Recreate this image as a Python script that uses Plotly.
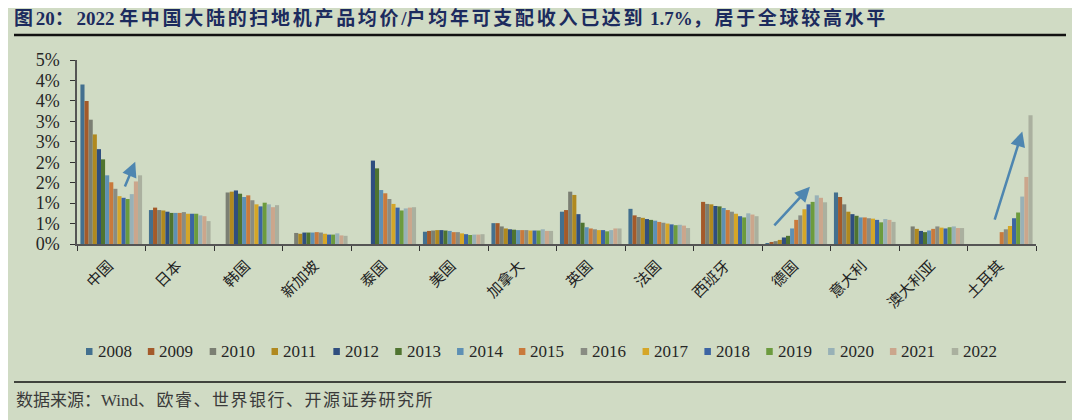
import plotly.graph_objects as go

# ---------------- data ----------------
countries = ["中国", "日本", "韩国", "新加坡", "泰国", "美国", "加拿大", "英国",
             "法国", "西班牙", "德国", "意大利", "澳大利亚", "土耳其"]
years = ["2008", "2009", "2010", "2011", "2012", "2013", "2014", "2015",
         "2016", "2017", "2018", "2019", "2020", "2021", "2022"]

# values in % (price / household disposable income), per country, 2008..2022
china     = [3.90, 3.50, 3.04, 2.68, 2.32, 2.07, 1.68, 1.51, 1.35, 1.17, 1.13, 1.10, 1.22, 1.53, 1.68]
japan     = [0.83, 0.89, 0.83, 0.82, 0.79, 0.76, 0.76, 0.76, 0.78, 0.74, 0.74, 0.74, 0.70, 0.68, 0.56]
korea     = [None, None, 1.26, 1.28, 1.31, 1.23, 1.15, 1.19, 1.07, 0.97, 0.92, 1.01, 0.97, 0.90, 0.95]
singapore = [None, None, 0.27, 0.25, 0.28, 0.28, 0.28, 0.29, 0.28, 0.25, 0.23, 0.23, 0.26, 0.21, 0.20]
thailand  = [None, None, None, None, 2.04, 1.85, 1.32, 1.24, 1.10, 0.98, 0.89, 0.82, 0.87, 0.89, 0.90]
usa       = [0.30, 0.32, 0.33, 0.34, 0.34, 0.33, 0.32, 0.29, 0.29, 0.26, 0.24, 0.22, 0.23, 0.23, 0.24]
canada    = [0.51, 0.51, 0.43, 0.38, 0.36, 0.35, 0.34, 0.34, 0.34, 0.33, 0.33, 0.33, 0.36, 0.32, 0.32]
uk        = [0.79, 0.83, 1.28, 1.20, 0.73, 0.52, 0.41, 0.38, 0.36, 0.34, 0.34, 0.31, 0.34, 0.38, 0.38]
france    = [0.86, 0.70, 0.66, 0.64, 0.61, 0.59, 0.57, 0.54, 0.52, 0.50, 0.48, 0.46, 0.47, 0.45, 0.39]
spain     = [None, 1.03, 0.98, 0.97, 0.93, 0.92, 0.88, 0.83, 0.79, 0.74, 0.68, 0.65, 0.75, 0.72, 0.68]
germany   = [0.02, 0.05, 0.07, 0.10, 0.16, 0.20, 0.38, 0.59, 0.70, 0.85, 0.97, 1.03, 1.19, 1.13, 1.02]
italy     = [1.26, 1.15, 0.97, 0.79, 0.73, 0.69, 0.65, 0.65, 0.63, 0.62, 0.59, 0.53, 0.61, 0.59, 0.54]
australia = [None, None, 0.43, 0.37, 0.32, 0.29, 0.33, 0.37, 0.43, 0.40, 0.38, 0.41, 0.43, 0.39, 0.39]
turkey    = [None, None, None, None, None, None, None, 0.29, 0.36, 0.44, 0.63, 0.77, 1.16, 1.64, 3.15]

y_tick_vals = [0, 0.5, 1.0, 1.5, 2.0, 2.5, 3.0, 3.5, 4.0, 4.5]
y_tick_labels = ["0%", "1%", "1%", "2%", "2%", "3%", "3%", "4%", "4%", "5%"]

# ---------------- style ----------------
colors = ["#43708F", "#A45A2A", "#7B7F73", "#B0891F", "#2F4E7F", "#4F7430",
          "#5E90B4", "#C97A3C", "#898C83", "#D5A628", "#3C64A3", "#6C9B3E",
          "#98B1B7", "#CBA68C", "#AAB09F"]
BG = "#D0DBC4"
OFF = 8                      # page body margin of the html page
W, H = 1080 - OFF, 420 - OFF
# plot area in screen pixels: x 77..1036, y 60..244
L = 77 - OFF
T = 60 - OFF
R = W - (1036 - OFF)
B = H - (244 - OFF)
PW, PH = W - L - R, H - T - B

def px_x(p):
    return (p - OFF - L) / PW

def px_y(p):
    return (H - B - (p - OFF)) / PH

by_country = [china, japan, korea, singapore, thailand, usa, canada, uk,
              france, spain, germany, italy, australia, turkey]

fig = go.Figure()
for j, yr in enumerate(years):
    vals = [row[j] for row in by_country]
    fig.add_trace(go.Bar(x=countries, y=vals, name=yr, marker_color=colors[j],
                         marker_line_width=0, showlegend=False))

arrow_color = "#4E86B0"
arrows = [  # (x_tip, y_tip, x_tail, y_tail) in category-index / % units
    (0.35, 2.01, 0.19, 1.37),
    (10.20, 1.40, 9.66, 0.42),
    (13.30, 2.75, 12.89, 0.56),
]
anns = []
for xt, yt, xa, ya in arrows:
    anns.append(dict(x=xt, y=yt, ax=xa, ay=ya, xref="x", yref="y", axref="x", ayref="y",
                     text="", showarrow=True, arrowhead=2, arrowsize=1.2,
                     arrowwidth=2.5, arrowcolor=arrow_color, standoff=0))

anns.append(dict(xref="paper", yref="paper", x=px_x(14), y=px_y(400),
                 xanchor="left", yanchor="middle", showarrow=False,
                 text="数据来源：Wind<span style=\"letter-spacing:1.5px\">、欧睿、世界银行、开源证券研究所</span>",
                 font=dict(family="Liberation Serif, Noto Sans CJK SC", size=17, color="#3A3A3A")))

shapes = [
    dict(type="line", xref="paper", yref="paper", x0=px_x(14), x1=px_x(1066),
         y0=px_y(35), y1=px_y(35), line=dict(color="#111111", width=2.5)),
    dict(type="line", xref="paper", yref="paper", x0=px_x(14), x1=px_x(1066),
         y0=px_y(382), y1=px_y(382), line=dict(color="#111111", width=1.5)),
]

# ---- custom horizontal legend (small squares + labels) ----
LEG_X0, LEG_PITCH, LEG_Y = 86, 61.84, 351.5
for j, yr in enumerate(years):
    mx = LEG_X0 + LEG_PITCH * j
    shapes.append(dict(type="rect", xref="paper", yref="paper",
                       x0=px_x(mx), x1=px_x(mx + 6.5),
                       y0=px_y(LEG_Y + 3.5), y1=px_y(LEG_Y - 3.5),
                       fillcolor=colors[j], line=dict(width=0)))
    anns.append(dict(xref="paper", yref="paper", x=px_x(mx + 9.5), y=px_y(LEG_Y),
                     xanchor="left", yanchor="middle", showarrow=False, text=yr,
                     font=dict(family="Liberation Serif", size=17, color="#262626")))

def sp(s):
    return "<span style=\"letter-spacing:2.7px\">" + s + "</span>"

title_text = ("<b>" + sp("图") + "20" + sp("：") + "2022 " + sp("年中国大陆的扫地机产品均价") + "/"
              + sp("户均年可支配收入已达到") + " 1.7%" + sp("，居于全球较高水平") + "</b>")

tick_text = [c + "\u00a0" for c in countries]

fig.update_layout(
    width=W, height=H,
    paper_bgcolor=BG, plot_bgcolor=BG,
    margin=dict(l=L, r=R, t=T, b=B),
    barmode="group", bargap=0.1, bargroupgap=0,
    showlegend=False,
    title=dict(text=title_text,
               x=(14 - OFF) / W, xanchor="left", xref="container",
               y=1 - (18 - OFF) / H, yanchor="middle", yref="container",
               font=dict(family="Liberation Serif, Noto Sans CJK SC", size=19, color="#1C2B5E")),
    xaxis=dict(type="category", showline=True, linecolor="#555555", linewidth=1.5,
               ticks="outside", tickson="boundaries", ticklen=5, tickcolor="#333333",
               tickvals=countries, ticktext=tick_text,
               tickangle=-45, showgrid=False, zeroline=False, ticklabelstandoff=3,
               tickfont=dict(family="Noto Sans CJK SC", size=15, color="#222222")),
    yaxis=dict(range=[0, 4.5], tickvals=y_tick_vals, ticktext=y_tick_labels,
               showline=True, linecolor="#555555", linewidth=1.5,
               ticks="outside", ticklen=5, tickcolor="#333333", showgrid=False, zeroline=False,
               ticklabelstandoff=7,
               tickfont=dict(family="Liberation Serif", size=18, color="#262626")),
    annotations=anns, shapes=shapes,
)

fig.write_html("out.html")
